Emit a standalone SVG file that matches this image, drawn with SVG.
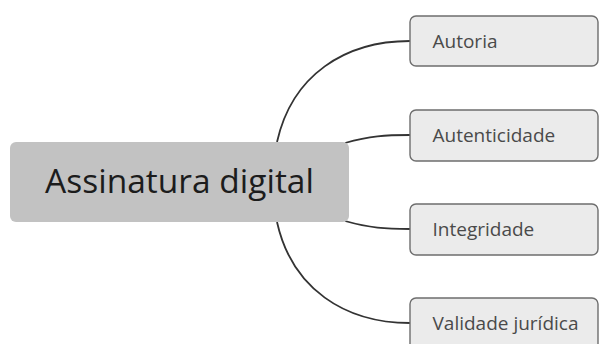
<svg xmlns="http://www.w3.org/2000/svg" width="600" height="344" viewBox="0 0 600 344">
<style>
.child rect{fill:#ebebeb;stroke:#6e6e6e;stroke-width:1.4}
.child text{font-family:"Open Sans",sans-serif;font-size:19px;fill:#4a4a4a}
.conn path{fill:none;stroke:#333;stroke-width:1.8}
</style>
<rect width="600" height="344" fill="#fff"/>
<g class="conn" id="connectors">
<path d="M277,142 C292,75 345,41 410,41"/>
<path d="M345,143 C370,136 385,135 410,135"/>
<path d="M345,221 C370,228 385,229 410,229"/>
<path d="M277,222 C292,289 345,323 410,323"/>
</g>
<g id="main">
<rect x="10" y="142" width="339" height="80" rx="6" fill="#c2c2c2"/>
<text x="179.5" y="193" text-anchor="middle" font-family="'Open Sans',sans-serif" font-size="33.5" fill="#1c1c1c">Assinatura digital</text>
</g>
<g class="child" id="n1">
<rect x="410" y="16" width="188" height="50" rx="6"/>
<text x="432.5" y="47.5">Autoria</text>
</g>
<g class="child" id="n2">
<rect x="410" y="110" width="188" height="51" rx="6"/>
<text x="432.5" y="141.5">Autenticidade</text>
</g>
<g class="child" id="n3">
<rect x="410" y="204" width="188" height="51" rx="6"/>
<text x="432.5" y="235.5">Integridade</text>
</g>
<g class="child" id="n4">
<rect x="410" y="298" width="188" height="52" rx="6"/>
<text x="432.5" y="329.5">Validade jurídica</text>
</g>
</svg>
